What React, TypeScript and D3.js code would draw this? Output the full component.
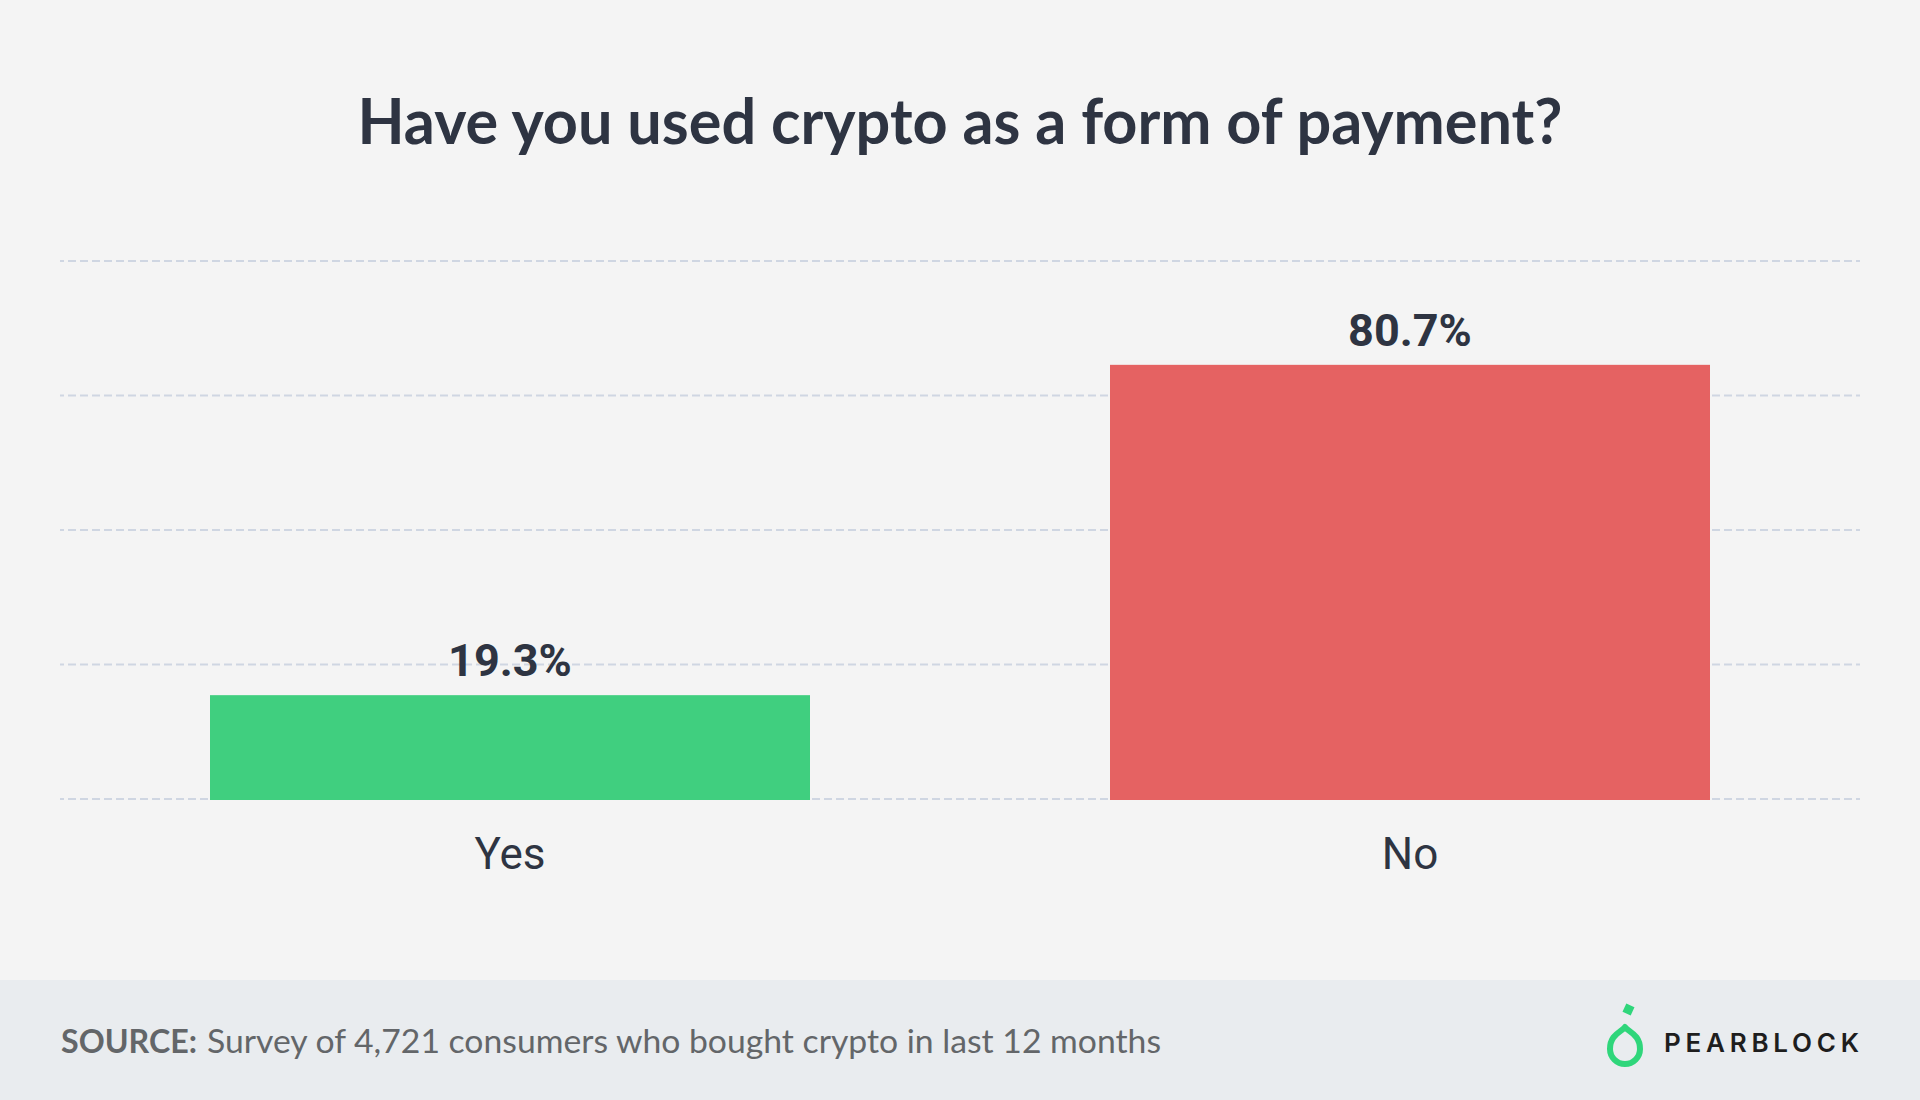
import React from "react";
import * as d3 from "d3";

const categories: string[] = ["Yes", "No"];
const values: number[] = [19.3, 80.7];
const gridTicks: number[] = [0, 25, 50, 75, 100];
const titleText = "Have you used crypto as a form of payment?";
const sourceLabel = "SOURCE:";
const sourceText = "Survey of 4,721 consumers who bought crypto in last 12 months";
const brandText = "PEARBLOCK";

const W = 1920;
const H = 1100;
const barColors = ["#40cf7f", "#e56262"];
const textDark = "#2e3442";

export default function App() {
  const x = d3
    .scaleBand<string>()
    .domain(categories)
    .range([60, 1860])
    .paddingInner(1 / 3)
    .paddingOuter(1 / 6);
  const y = d3.scaleLinear().domain([0, 100]).range([799, 261]);

  // pear logo geometry
  const cx = 1625;
  const cy = 1049;
  const r = 15;
  const topY = 1027;
  const pearPath = `M ${cx} ${topY} C ${cx + 3} ${topY + 5} ${cx + r} ${cy - r * 1.0} ${cx + r} ${cy} A ${r} ${r} 0 1 1 ${cx - r} ${cy} C ${cx - r} ${cy - r * 1.0} ${cx - 3} ${topY + 5} ${cx} ${topY} Z`;

  return (
    <svg
      width={W}
      height={H}
      viewBox={`0 0 ${W} ${H}`}
      style={{ position: "absolute", left: 0, top: 0, display: "block" }}
    >
      <rect x={0} y={0} width={W} height={H} fill="#f4f4f4" />
      <rect x={0} y={980} width={W} height={H - 980} fill="#e9ecef" />

      <text
        x={960}
        y={144}
        textAnchor="middle"
        fontFamily="Lato, 'Open Sans', sans-serif"
        fontWeight={700}
        fontSize={63}
        fill={textDark}
        textLength={1205}
        lengthAdjust="spacingAndGlyphs"
      >
        {titleText}
      </text>

      {gridTicks.map((t) => (
        <line
          key={t}
          x1={60}
          x2={1860}
          y1={y(t)}
          y2={y(t)}
          stroke="#cfd6e2"
          strokeWidth={2}
          strokeDasharray="8 4"
          strokeDashoffset={4}
        />
      ))}

      {categories.map((c, i) => (
        <g key={c}>
          <rect
            x={x(c)}
            y={y(values[i])}
            width={x.bandwidth()}
            height={y(0) + 1 - y(values[i])}
            fill={barColors[i]}
          />
          <text
            x={(x(c) as number) + x.bandwidth() / 2}
            y={y(values[i]) - 19}
            textAnchor="middle"
            fontFamily="Roboto, sans-serif"
            fontWeight={700}
            fontSize={45}
            fill={textDark}
          >
            {values[i].toFixed(1) + "%"}
          </text>
          <text
            x={(x(c) as number) + x.bandwidth() / 2}
            y={y(0) + 70}
            textAnchor="middle"
            fontFamily="Roboto, sans-serif"
            fontWeight={400}
            fontSize={44}
            fill={textDark}
          >
            {c}
          </text>
        </g>
      ))}

      <text
        x={61}
        y={1053}
        fontFamily="Lato, 'Open Sans', sans-serif"
        fontWeight={700}
        fontSize={32}
        fill="#636669"
        textLength={136}
        lengthAdjust="spacingAndGlyphs"
      >
        {sourceLabel}
      </text>
      <text
        x={207}
        y={1053}
        fontFamily="Lato, 'Open Sans', sans-serif"
        fontWeight={400}
        fontSize={32}
        fill="#636669"
        textLength={954}
        lengthAdjust="spacingAndGlyphs"
      >
        {sourceText}
      </text>

      <path d={pearPath} fill="none" stroke="#2fd67b" strokeWidth={6} strokeLinejoin="round" />
      <rect
        x={1624}
        y={1005}
        width={9}
        height={9}
        fill="#2fd67b"
        transform="rotate(25 1628.5 1009.5)"
      />
      <text
        x={1664}
        y={1052}
        fontFamily="Inter, Roboto, sans-serif"
        fontWeight={600}
        fontSize={26}
        fill="#1e1e1e"
        textLength={195}
        lengthAdjust="spacing"
      >
        {brandText}
      </text>
    </svg>
  );
}
